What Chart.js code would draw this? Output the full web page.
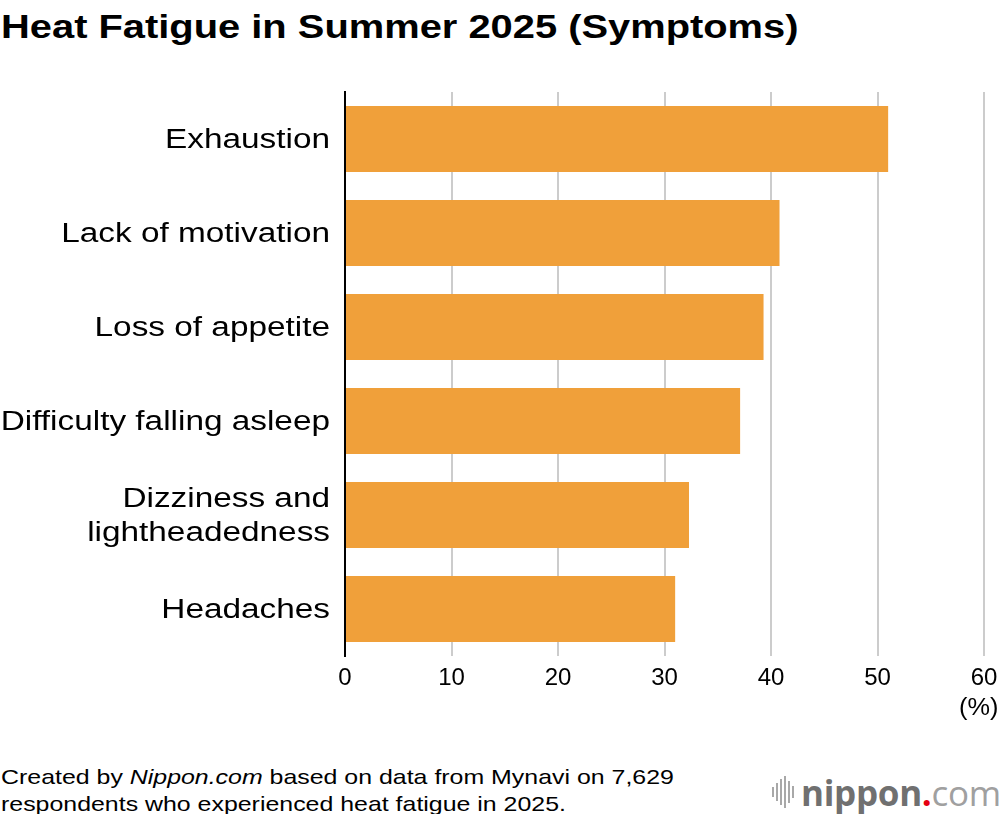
<!DOCTYPE html>
<html>
<head>
<meta charset="utf-8">
<script src="https://cdn.jsdelivr.net/npm/chart.js@4.4.1/dist/chart.umd.min.js"></script>
<style>
  html, body { margin: 0; padding: 0; background: #fff; }
  body { width: 1000px; height: 814px; position: relative; overflow: hidden;
         font-family: "Liberation Sans", Arial, sans-serif; color: #000; }
  #title { position: absolute; left: 1px; top: 8px; font-size: 33px; font-weight: bold;
           white-space: nowrap; transform: scaleX(1.208); transform-origin: left top; }
  #wrap { position: absolute; left: 0; top: 0; width: 1000px; height: 700px; }
  #unit { position: absolute; left: 959px; top: 694px; font-size: 23px; transform: scaleX(1.1); transform-origin: left top; }
  #note { position: absolute; left: 1px; top: 763px; font-size: 21px; line-height: 27px; white-space: nowrap;
          transform: scaleX(1.186); transform-origin: left top; }
  #logo { position: absolute; left: 772px; top: 772px; height: 40px; display: flex; align-items: center; }
  #logo .bars { display: flex; align-items: center; gap: 2px; margin-right: 7px; }
  #logo .bars span { display: block; width: 2px; background: #a8a8a8; }
  #logo .word { font-family: "Open Sans", sans-serif; font-size: 35px; color: #707070; font-weight: bold; letter-spacing: -0.3px; }
  #logo .dot { color: #e60012; }
  #logo .com { font-weight: normal; color: #a0a0a0; }
</style>
</head>
<body>
<div id="title">Heat Fatigue in Summer 2025 (Symptoms)</div>
<div id="wrap"><canvas id="chart"></canvas></div>
<div id="unit">(%)</div>
<div id="note">Created by <i>Nippon.com</i> based on data from Mynavi on 7,629<br>respondents who experienced heat fatigue in 2025.</div>
<div id="logo">
  <div class="bars">
    <span style="height:10px"></span><span style="height:18px"></span><span style="height:26px"></span>
    <span style="height:32px"></span><span style="height:22px"></span><span style="height:12px"></span>
  </div>
  <div class="word">nippon<span class="dot">.</span><span class="com">com</span></div>
</div>
<script>
// categories and values (% of respondents)
const symptoms = [
    'Exhaustion',
    'Lack of motivation',
    'Loss of appetite',
    'Difficulty falling asleep',
    ['Dizziness and', 'lightheadedness'],
    'Headaches'
];
const shares = [51.0, 40.8, 39.3, 37.1, 32.3, 31.0];
const xTicks = [0, 10, 20, 30, 40, 50, 60];

// category labels are drawn a little wider than Arial, like the original font
const wideLabels = {
    id: 'wideLabels',
    afterDraw(chart) {
        const scale = chart.scales.y;
        const c = chart.ctx;
        c.save();
        c.fillStyle = '#000';
        c.font = "27px 'Liberation Sans', Arial, sans-serif";
        c.textAlign = 'right';
        c.textBaseline = 'middle';
        scale.ticks.forEach((t, i) => {
            const y = scale.getPixelForTick(i) + 2;
            const lines = Array.isArray(symptoms[i]) ? symptoms[i] : [symptoms[i]];
            lines.forEach((line, j) => {
                const dy = (j - (lines.length - 1) / 2) * 34;
                c.save();
                c.translate(330, y + dy);
                c.scale(1.235, 1);
                c.fillText(line, 0, 0);
                c.restore();
            });
        });
        c.restore();
    }
};

const ctx = document.getElementById('chart');
new Chart(ctx, {
    type: 'bar',
    data: {
        labels: symptoms,
        datasets: [{
            data: shares,
            backgroundColor: '#f0a03a',
            borderWidth: 0,
            categoryPercentage: 1,
            barPercentage: 0.70
        }]
    },
    options: {
        indexAxis: 'y',
        responsive: true,
        maintainAspectRatio: false,
        animation: false,
        layout: { padding: { top: 92, right: 16, left: 0, bottom: 0 } },
        plugins: { legend: { display: false }, tooltip: { enabled: false } },
        scales: {
            x: {
                min: 0,
                max: 60,
                afterBuildTicks: axis => { axis.ticks = xTicks.map(v => ({ value: v })); },
                afterFit: axis => {
                    axis.height = 44;
                    axis.paddingLeft = 0;
                    axis.paddingRight = 0;
                },
                grid: { color: '#cccccc', lineWidth: 2, drawTicks: false },
                border: { display: false },
                ticks: {
                    color: '#000',
                    padding: 8,
                    maxRotation: 0,
                    font: { size: 24, family: "'Liberation Sans', Arial, sans-serif" }
                }
            },
            y: {
                afterFit: axis => { axis.width = 345; },
                grid: { display: false, drawTicks: false },
                border: { display: true, color: '#000', width: 2 },
                ticks: { display: false }
            }
        }
    },
    plugins: [wideLabels]
});
</script>
</body>
</html>
